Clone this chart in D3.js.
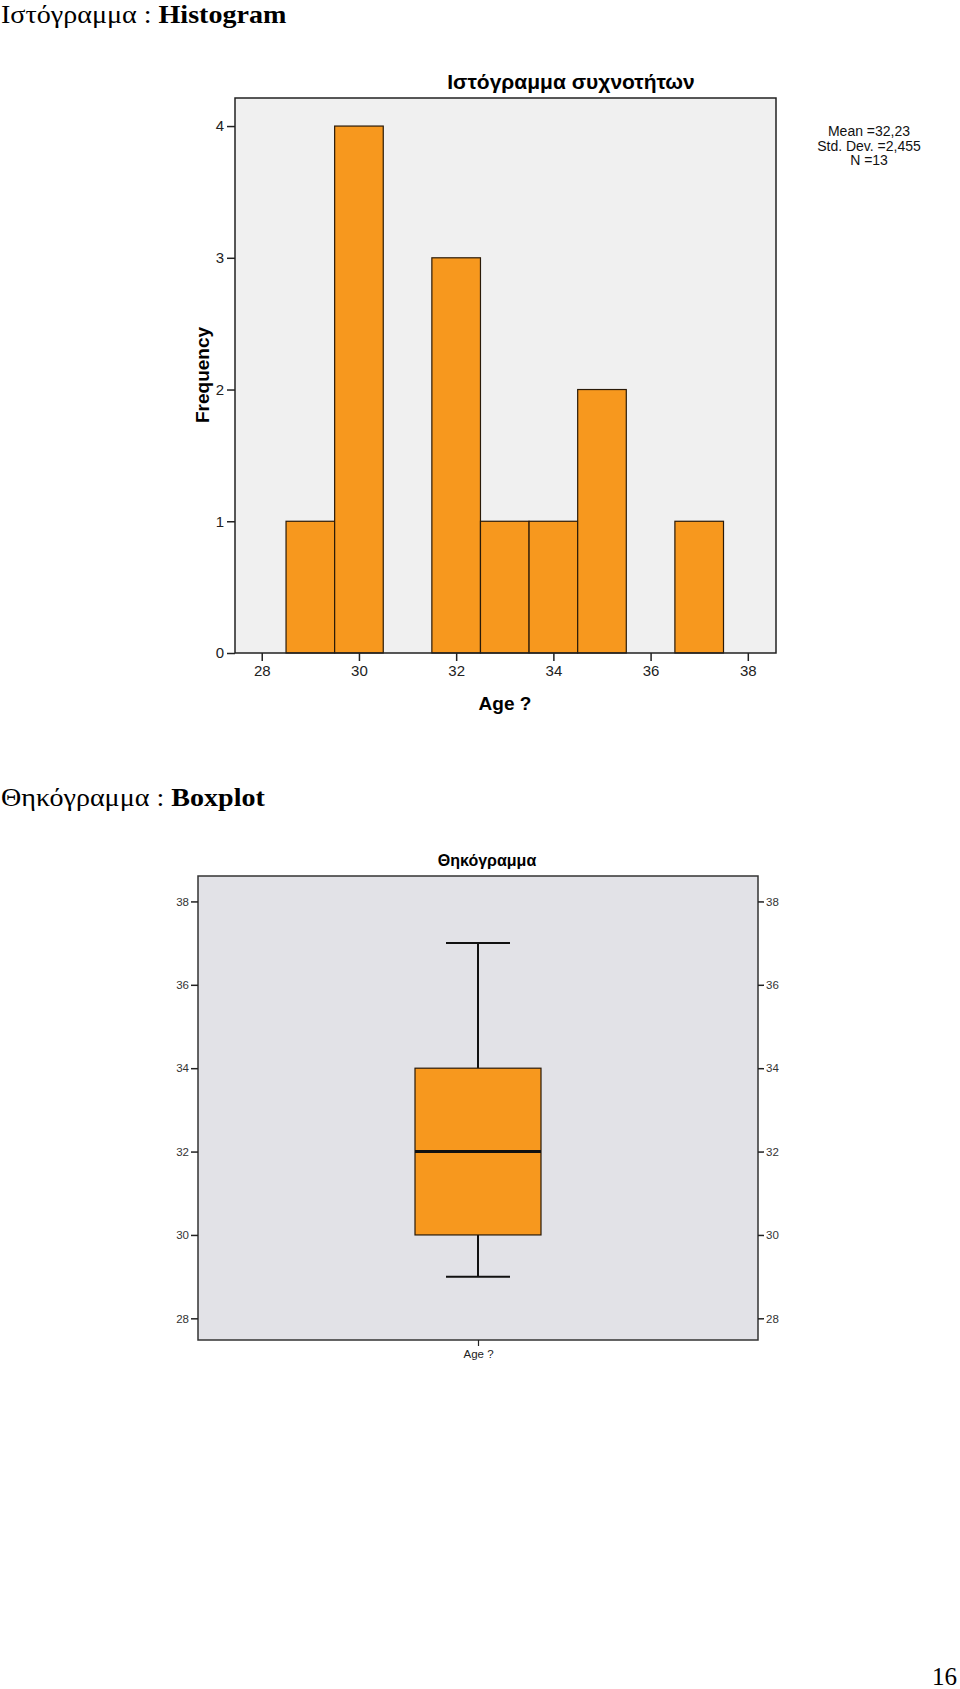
<!DOCTYPE html>
<html><head><meta charset="utf-8">
<script src="https://cdn.jsdelivr.net/npm/d3@7"></script>
<style>
html,body{margin:0;padding:0;background:#fff;}
svg{display:block;}
</style></head>
<body>
<script>
// ---------- DATA ----------
const ageBins = [29, 30, 31, 32, 33, 34, 35, 36, 37];
const frequencies = [1, 4, 0, 3, 1, 1, 2, 0, 1];
const histXTicks = [28, 30, 32, 34, 36, 38];
const histYTicks = [0, 1, 2, 3, 4];
const statsLines = ["Mean =32,23", "Std. Dev. =2,455", "N =13"];
const boxCategories = ["Age ?"];
const boxValues = [29, 30, 32, 34, 37]; // min, Q1, median, Q3, max
const boxTicks = [28, 30, 32, 34, 36, 38];

const W = 960, H = 1689;
const svg = d3.select("body").append("svg").attr("width", W).attr("height", H);
const serif = "'Liberation Serif', 'DejaVu Serif', serif";
const sans = "'Liberation Sans', Arial, sans-serif";
const orange = "#f7981e";

// ---------- Headings ----------
function heading(y, normal, bold) {
  const t = svg.append("text").attr("transform", `translate(1,${y}) scale(1.08,1)`)
    .attr("font-family", serif).attr("font-size", 26).attr("fill", "#000");
  t.append("tspan").text(normal);
  t.append("tspan").attr("font-weight", "bold").text(bold);
}
heading(23, "Ιστόγραμμα : ", "Histogram");
heading(806, "Θηκόγραμμα : ", "Boxplot");
svg.append("text").attr("x", 957).attr("y", 1685).attr("text-anchor", "end")
  .attr("font-family", serif).attr("font-size", 25).text("16");

// ---------- Histogram ----------
const hp = {left: 235, right: 776, top: 98, bottom: 653};
const hx = d3.scaleLinear().domain([27.45, 38.58]).range([hp.left, hp.right]);
const hy = d3.scaleLinear().domain([0, 4.213]).range([hp.bottom, hp.top]);
const hg = svg.append("g");
hg.append("rect").attr("x", hp.left).attr("y", hp.top)
  .attr("width", hp.right - hp.left).attr("height", hp.bottom - hp.top)
  .attr("fill", "#f0f0f0");
hg.selectAll("rect.bar").data(ageBins.map((b, i) => ({b, f: frequencies[i]})).filter(d => d.f > 0))
  .enter().append("rect").attr("class", "bar")
  .attr("x", d => hx(d.b - 0.5)).attr("width", d => hx(d.b + 0.5) - hx(d.b - 0.5))
  .attr("y", d => hy(d.f)).attr("height", d => hy(0) - hy(d.f))
  .attr("fill", orange).attr("stroke", "#2a1a08").attr("stroke-width", 1.2);
hg.append("rect").attr("x", hp.left).attr("y", hp.top)
  .attr("width", hp.right - hp.left).attr("height", hp.bottom - hp.top)
  .attr("fill", "none").attr("stroke", "#222").attr("stroke-width", 1.5);

const hxAxis = d3.axisBottom(hx).tickValues(histXTicks).tickFormat(d3.format("d")).tickSize(8).tickPadding(4);
const gx = hg.append("g").attr("transform", `translate(0,${hp.bottom})`).call(hxAxis);
gx.select(".domain").remove();
gx.selectAll("line").attr("stroke", "#222").attr("stroke-width", 1.5);
gx.selectAll("text").attr("font-family", sans).attr("font-size", 15).attr("fill", "#222");

const hyAxis = d3.axisLeft(hy).tickValues(histYTicks).tickFormat(d3.format("d")).tickSize(8).tickPadding(3);
const gy = hg.append("g").attr("transform", `translate(${hp.left},0)`).call(hyAxis);
gy.select(".domain").remove();
gy.selectAll("line").attr("stroke", "#222").attr("stroke-width", 1.5);
gy.selectAll("text").attr("font-family", sans).attr("font-size", 15).attr("fill", "#222");

hg.append("text").attr("x", 571).attr("y", 89).attr("text-anchor", "middle")
  .attr("font-family", sans).attr("font-weight", "bold").attr("font-size", 21)
  .text("Ιστόγραμμα συχνοτήτων");
hg.append("text").attr("transform", "translate(209,375) rotate(-90)").attr("text-anchor", "middle")
  .attr("font-family", sans).attr("font-weight", "bold").attr("font-size", 19)
  .text("Frequency");
hg.append("text").attr("x", 505).attr("y", 710).attr("text-anchor", "middle")
  .attr("font-family", sans).attr("font-weight", "bold").attr("font-size", 19)
  .text("Age ?");
hg.selectAll("text.stat").data(statsLines).enter().append("text").attr("class", "stat")
  .attr("x", 869).attr("y", (d, i) => 136 + i * 14.5).attr("text-anchor", "middle")
  .attr("font-family", sans).attr("font-size", 14).attr("fill", "#111").text(d => d);

// ---------- Boxplot ----------
const bp = {left: 198, right: 758, top: 876, bottom: 1340};
const by = d3.scaleLinear().domain([27.48, 38.61]).range([bp.bottom, bp.top]);
const bx = d3.scalePoint().domain(boxCategories).range([bp.left, bp.right]).padding(0.5);
const bg = svg.append("g");
bg.append("rect").attr("x", bp.left).attr("y", bp.top)
  .attr("width", bp.right - bp.left).attr("height", bp.bottom - bp.top)
  .attr("fill", "#e2e2e7").attr("stroke", "#333").attr("stroke-width", 1.5);

const boxW = 126, capW = 64;
boxCategories.forEach(cat => {
  const cx = bx(cat);
  const [mn, q1, md, q3, mx] = boxValues;
  bg.append("line").attr("x1", cx).attr("x2", cx).attr("y1", by(mx)).attr("y2", by(q3))
    .attr("stroke", "#111").attr("stroke-width", 2);
  bg.append("line").attr("x1", cx).attr("x2", cx).attr("y1", by(q1)).attr("y2", by(mn))
    .attr("stroke", "#111").attr("stroke-width", 2);
  [mx, mn].forEach(v => bg.append("line").attr("x1", cx - capW / 2).attr("x2", cx + capW / 2)
    .attr("y1", by(v)).attr("y2", by(v)).attr("stroke", "#111").attr("stroke-width", 2));
  bg.append("rect").attr("x", cx - boxW / 2).attr("width", boxW)
    .attr("y", by(q3)).attr("height", by(q1) - by(q3))
    .attr("fill", orange).attr("stroke", "#2a1a08").attr("stroke-width", 1.2);
  bg.append("line").attr("x1", cx - boxW / 2).attr("x2", cx + boxW / 2)
    .attr("y1", by(md)).attr("y2", by(md)).attr("stroke", "#111").attr("stroke-width", 3);
});

const byL = d3.axisLeft(by).tickValues(boxTicks).tickFormat(d3.format("d")).tickSize(7).tickPadding(2);
const gbl = bg.append("g").attr("transform", `translate(${bp.left},0)`).call(byL);
const byR = d3.axisRight(by).tickValues(boxTicks).tickFormat(d3.format("d")).tickSize(6).tickPadding(2);
const gbr = bg.append("g").attr("transform", `translate(${bp.right},0)`).call(byR);
[gbl, gbr].forEach(g => {
  g.select(".domain").remove();
  g.selectAll("line").attr("stroke", "#222").attr("stroke-width", 1.5);
  g.selectAll("text").attr("font-family", sans).attr("font-size", 11.5).attr("fill", "#333");
});
const bxAxis = d3.axisBottom(bx).tickSize(6).tickPadding(4);
const gbx = bg.append("g").attr("transform", `translate(0,${bp.bottom})`).call(bxAxis);
gbx.select(".domain").remove();
gbx.selectAll("line").attr("stroke", "#222").attr("stroke-width", 1.2);
gbx.selectAll("text").attr("font-family", sans).attr("font-size", 11.5).attr("fill", "#222");

bg.append("text").attr("x", 487).attr("y", 866).attr("text-anchor", "middle")
  .attr("font-family", sans).attr("font-weight", "bold").attr("font-size", 16)
  .text("Θηκόγραμμα");
</script>
</body></html>
